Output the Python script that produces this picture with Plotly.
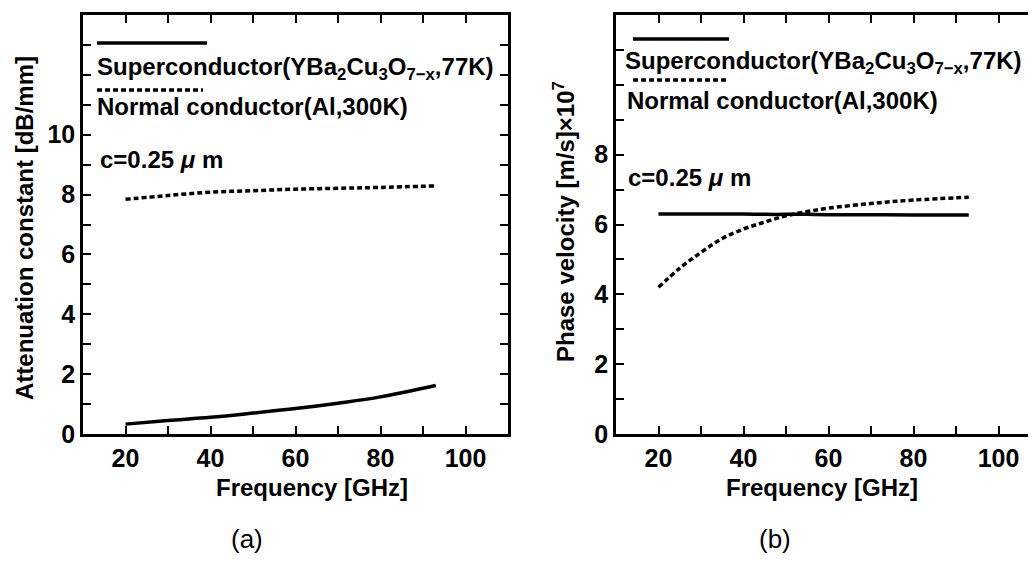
import plotly.graph_objects as go

# ---- data ----
freq_a = [20, 30, 40, 50, 60, 70, 80, 93]
sc_atten = [0.33, 0.45, 0.56, 0.70, 0.85, 1.03, 1.24, 1.62]
nc_atten = [7.84, 7.97, 8.08, 8.13, 8.18, 8.21, 8.24, 8.29]

freq_b = [20, 25, 30, 35, 40, 45, 50, 55, 60, 70, 80, 93]
sc_vel = [6.30, 6.30, 6.30, 6.30, 6.30, 6.29, 6.29, 6.29, 6.28, 6.28, 6.27, 6.27]
nc_vel = [4.20, 4.75, 5.20, 5.60, 5.87, 6.07, 6.25, 6.37, 6.47, 6.60, 6.70, 6.78]

x_ticks = list(range(10, 111, 10))
x_labels = ["" if v in (10, 30, 50, 70, 90, 110) else str(v) for v in x_ticks]
ya_ticks = list(range(0, 15))
ya_labels = [str(v) if (v % 2 == 0 and v <= 10) else "" for v in ya_ticks]
yb_ticks = list(range(0, 13))
yb_labels = [str(v) if (v % 2 == 0 and v <= 8) else "" for v in yb_ticks]

# page body has an 8px margin, so the figure is offset by 8px
OFF = 8
W, H = 1028, 549
FONT = "Liberation Sans"


def px(x):
    return (x - OFF) / W


def py(y):
    return 1 - (y - OFF) / H


fig = go.Figure()
solid = dict(color="black", width=3.5)
dotted = dict(color="black", width=3.5, dash="5px,3px")

fig.add_trace(go.Scatter(x=freq_a, y=sc_atten, mode="lines", line=solid, xaxis="x", yaxis="y", line_shape="spline"))
fig.add_trace(go.Scatter(x=freq_a, y=nc_atten, mode="lines", line=dotted, xaxis="x", yaxis="y", line_shape="spline"))
fig.add_trace(go.Scatter(x=freq_b, y=sc_vel, mode="lines", line=solid, xaxis="x2", yaxis="y2", line_shape="spline"))
fig.add_trace(go.Scatter(x=freq_b, y=nc_vel, mode="lines", line=dotted, xaxis="x2", yaxis="y2", line_shape="spline"))

tickfont = dict(family=FONT, size=25, color="black", weight="bold")
ax_common = dict(showline=True, linecolor="black", linewidth=2.5, mirror="ticks",
                 ticks="inside", ticklen=8, tickwidth=2, tickcolor="black",
                 showgrid=False, zeroline=False, automargin=False, tickfont=tickfont)

ydom = [py(434), py(15)]
fig.update_layout(
    width=W, height=H, template="none", showlegend=False,
    paper_bgcolor="white", plot_bgcolor="white",
    margin=dict(l=0, r=0, t=0, b=0),
    xaxis=dict(domain=[px(83), px(508)], range=[10, 110], tickvals=x_ticks, ticktext=x_labels,
               anchor="y", **ax_common),
    yaxis=dict(domain=ydom, range=[0, 14], tickvals=ya_ticks, ticktext=ya_labels,
               anchor="x", **ax_common),
    xaxis2=dict(domain=[px(616), 1.0], range=[10, 10 + (W + OFF - 616) / 4.25], tickvals=x_ticks,
                ticktext=x_labels, anchor="y2", **ax_common),
    yaxis2=dict(domain=ydom, range=[0, 12], tickvals=yb_ticks, ticktext=yb_labels,
                anchor="x2", **ax_common),
)

txt = dict(family=FONT, size=24, color="black", weight="bold")
ttl = dict(family=FONT, size=24, color="black", weight="bold")
lab = dict(family=FONT, size=26, color="black")
ann = []


def note(x, y, text, font, xanchor="left", angle=0):
    ann.append(dict(x=px(x), y=py(y), xref="paper", yref="paper", text=text, showarrow=False,
                    xanchor=xanchor, yanchor="middle", font=font, textangle=angle))


sc_text = "Superconductor(YBa<sub>2</sub>Cu<sub>3</sub>O<sub>7\u2212x</sub>,77K)"
nc_text = "Normal conductor(Al,300K)"
c_text = "c=0.25 <i>\u03bc</i> m"

# panel (a)
note(95, 68, sc_text, txt)
note(95, 107, nc_text, txt)
note(98, 160, c_text, txt)
note(312, 487, "Frequency [GHz]", ttl, xanchor="center")
note(25, 228, "Attenuation constant [dB/mm]", ttl, xanchor="center", angle=-90)
note(247, 539, "(a)", lab, xanchor="center")

# panel (b)
note(623, 62, sc_text, txt)
note(625, 100, nc_text, txt)
note(626, 178, c_text, txt)
note(822, 487, "Frequency [GHz]", ttl, xanchor="center")
note(564, 222, "Phase velocity [m/s]\u00d710<sup>7</sup>", ttl, xanchor="center", angle=-90)
note(775, 539, "(b)", lab, xanchor="center")

fig.update_layout(annotations=ann)

# legend line samples
shapes = [
    dict(type="line", xref="paper", yref="paper", x0=px(97), x1=px(207), y0=py(43), y1=py(43),
         line=dict(color="black", width=3.5)),
    dict(type="line", xref="paper", yref="paper", x0=px(97), x1=px(203), y0=py(90), y1=py(90),
         line=dict(color="black", width=3.5, dash="5px,3px")),
    dict(type="line", xref="paper", yref="paper", x0=px(633), x1=px(729), y0=py(39), y1=py(39),
         line=dict(color="black", width=3.5)),
    dict(type="line", xref="paper", yref="paper", x0=px(633), x1=px(728), y0=py(80), y1=py(80),
         line=dict(color="black", width=3.5, dash="5px,3px")),
]
fig.update_layout(shapes=shapes)

fig.write_html("out.html")
